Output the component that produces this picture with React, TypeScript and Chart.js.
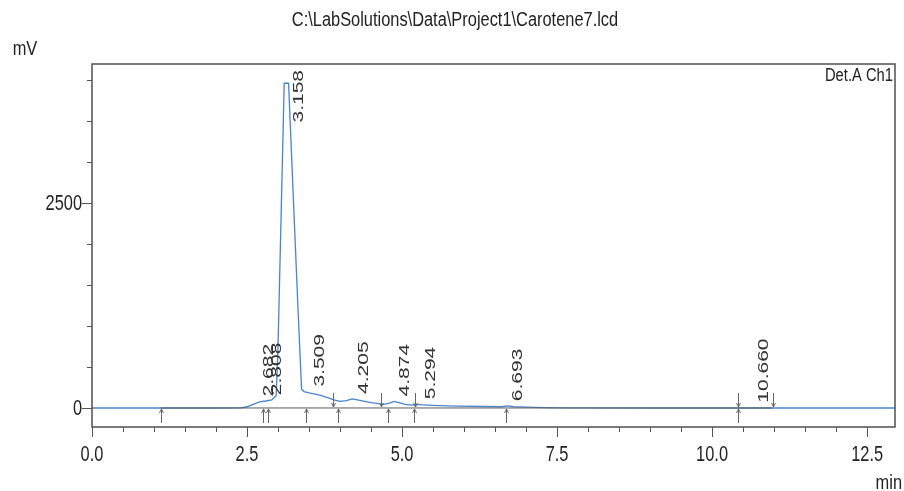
import React, { useEffect, useRef } from 'react';
import { Chart, registerables } from 'chart.js';

Chart.register(...registerables);

// ---- data ----
const titleText = 'C:\\LabSolutions\\Data\\Project1\\Carotene7.lcd';
const yUnit = 'mV';
const xUnit = 'min';
const channelText = 'Det.A Ch1';

const retentionTimes = [0, 1.0, 2.0, 2.4, 2.5, 2.6, 2.7, 2.8, 2.9, 2.97, 3.0, 3.05, 3.1, 3.17, 3.22, 3.27, 3.32, 3.38, 3.42, 3.5, 3.6, 3.7, 3.8, 3.9, 4.0, 4.1, 4.2, 4.3, 4.4, 4.5, 4.6, 4.7, 4.8, 4.87, 4.95, 5.05, 5.15, 5.25, 5.3, 5.4, 5.6, 5.9, 6.3, 6.6, 6.7, 6.8, 7.0, 7.3, 7.6, 9.0, 11.0, 12.95];
const signalMv = [0, 0, 0, 2, 15, 45, 75, 85, 100, 150, 750, 2350, 3960, 3960, 3050, 2150, 1250, 230, 200, 185, 170, 150, 125, 100, 80, 90, 110, 95, 80, 65, 55, 45, 60, 80, 65, 45, 35, 45, 40, 35, 28, 22, 18, 15, 25, 15, 10, 5, 2, 0, 0, 0];

const baselineTimes = [1.11, 10.98];
const baselineMv = [0, 0];

const peakTimes = [2.682, 2.808, 3.158, 3.509, 4.205, 4.874, 5.294, 6.693, 10.66];
const peakLabels = ['2.682', '2.808', '3.158', '3.509', '4.205', '4.874', '5.294', '6.693', '10.660'];
const peakHeights = [80, 95, 3960, 200, 110, 80, 45, 22, 3];

const startMarks = [1.11, 2.75, 2.84, 3.45, 3.97, 4.77, 5.19, 6.68, 10.42];
const endMarks = [3.89, 4.66, 5.21, 10.42, 10.98];

const xTicks = [0, 0.5, 1, 1.5, 2, 2.5, 3, 3.5, 4, 4.5, 5, 5.5, 6, 6.5, 7, 7.5, 8, 8.5, 9, 9.5, 10, 10.5, 11, 11.5, 12, 12.5];
const xLabelValues = [0, 2.5, 5, 7.5, 10, 12.5];
const xTickLabels = ['0.0', '2.5', '5.0', '7.5', '10.0', '12.5'];

const yTicks = [0, 500, 1000, 1500, 2000, 2500, 3000, 3500, 4000];
const yLabelValues = [0, 2500];
const yTickLabels = ['0', '2500'];

const FONT = "'Liberation Sans', Arial, sans-serif";
const CONDENSE = 0.82;
const STRETCH = 1.5;

function drawText(ctx: CanvasRenderingContext2D, text: string, x: number, y: number, align: CanvasTextAlign, size: number, sy = 1) {
  ctx.save();
  ctx.translate(x, y);
  ctx.scale(CONDENSE, sy);
  ctx.font = `${size}px ${FONT}`;
  ctx.textAlign = align;
  ctx.textBaseline = 'middle';
  ctx.fillText(text, 0, 0);
  ctx.restore();
}

const overlay = {
  id: 'overlay',
  afterDatasetsDraw(chart: any) {
    const { ctx, chartArea: a, scales } = chart;
    const x = scales.x;
    const y = scales.y;
    ctx.save();

    // frame
    ctx.strokeStyle = '#4f4f4f';
    ctx.lineWidth = 1.5;
    ctx.strokeRect(a.left, a.top, a.right - a.left, a.bottom - a.top);

    // tick marks
    ctx.lineWidth = 1;
    ctx.strokeStyle = '#555';
    ctx.beginPath();
    xTicks.forEach((v) => {
      const px = Math.round(x.getPixelForValue(v)) + 0.5;
      const len = xLabelValues.includes(v) ? 10 : 5;
      ctx.moveTo(px, a.bottom);
      ctx.lineTo(px, a.bottom + len);
    });
    yTicks.forEach((v) => {
      const py = Math.round(y.getPixelForValue(v)) + 0.5;
      const len = yLabelValues.includes(v) ? 10 : 5;
      ctx.moveTo(a.left, py);
      ctx.lineTo(a.left - len, py);
    });
    ctx.stroke();

    // tick labels
    ctx.fillStyle = '#222';
    xLabelValues.forEach((v, i) => {
      drawText(ctx, xTickLabels[i], x.getPixelForValue(v), a.bottom + 28, 'center', 20, 1.1);
    });
    yLabelValues.forEach((v, i) => {
      drawText(ctx, yTickLabels[i], a.left - 10, y.getPixelForValue(v) + 1, 'right', 20, 1.1);
    });

    // integration markers
    const y0 = y.getPixelForValue(0);
    ctx.strokeStyle = '#666';
    ctx.beginPath();
    startMarks.forEach((t) => {
      const px = Math.round(x.getPixelForValue(t)) + 0.5;
      ctx.moveTo(px, y0 + 1);
      ctx.lineTo(px, y0 + 15);
      ctx.moveTo(px - 2, y0 + 5);
      ctx.lineTo(px, y0 + 1);
      ctx.lineTo(px + 2, y0 + 5);
    });
    endMarks.forEach((t) => {
      const px = Math.round(x.getPixelForValue(t)) + 0.5;
      ctx.moveTo(px, y0 - 15);
      ctx.lineTo(px, y0 - 1);
      ctx.moveTo(px - 2, y0 - 5);
      ctx.lineTo(px, y0 - 1);
      ctx.lineTo(px + 2, y0 - 5);
    });
    ctx.stroke();

    // peak labels (rotated, stretched along the text)
    ctx.fillStyle = '#333';
    ctx.font = `14px ${FONT}`;
    ctx.textAlign = 'left';
    ctx.textBaseline = 'middle';
    peakTimes.forEach((t, i) => {
      const px = x.getPixelForValue(t);
      const py = y.getPixelForValue(peakHeights[i]);
      const len = ctx.measureText(peakLabels[i]).width * STRETCH;
      let yb = py - 5;
      if (yb - len < a.top + 6) yb = a.top + 6 + len;
      ctx.save();
      ctx.translate(px + 11, yb);
      ctx.scale(1, STRETCH);
      ctx.rotate(-Math.PI / 2);
      ctx.fillText(peakLabels[i], 0, 0);
      ctx.restore();
    });

    // texts
    ctx.fillStyle = '#222';
    drawText(ctx, titleText, 455, 20, 'center', 20);
    drawText(ctx, yUnit, 25, 49, 'center', 20);
    drawText(ctx, xUnit, 902, 483, 'right', 20);
    drawText(ctx, channelText, a.right - 2, a.top + 12, 'right', 18);

    ctx.restore();
  },
};

export default function App() {
  const ref = useRef<HTMLCanvasElement | null>(null);

  useEffect(() => {
    if (!ref.current) return;
    const chart = new Chart(ref.current, {
      type: 'line',
      data: {
        datasets: [
          {
            data: baselineTimes.map((t, i) => ({ x: t, y: baselineMv[i] })),
            borderColor: '#5a5a5a',
            borderWidth: 1,
            pointRadius: 0,
            tension: 0,
          },
          {
            data: retentionTimes.map((t, i) => ({ x: t, y: signalMv[i] })),
            borderColor: '#4a84cc',
            borderWidth: 1.3,
            pointRadius: 0,
            tension: 0,
          },
        ],
      },
      options: {
        responsive: false,
        animation: false,
        events: [],
        layout: { padding: { top: 64, right: 9, left: 0, bottom: 0 } },
        plugins: { legend: { display: false }, tooltip: { enabled: false }, title: { display: false } },
        scales: {
          x: {
            type: 'linear',
            min: 0,
            max: 12.95,
            grid: { display: false },
            border: { display: false },
            afterBuildTicks: (s: any) => {
              s.ticks = xTicks.map((v) => ({ value: v }));
            },
            afterFit: (s: any) => {
              s.height = 64;
            },
            ticks: { display: false },
          },
          y: {
            type: 'linear',
            min: -232,
            max: 4195,
            grid: { display: false },
            border: { display: false },
            afterBuildTicks: (s: any) => {
              s.ticks = yTicks.map((v) => ({ value: v }));
            },
            afterFit: (s: any) => {
              s.width = 92;
            },
            ticks: { display: false },
          },
        },
      },
      plugins: [overlay],
    } as any);
    return () => chart.destroy();
  }, []);

  return (
    <div style={{ position: 'absolute', left: 0, top: 0, width: 904, height: 491, background: '#fff' }}>
      <canvas ref={ref} width={904} height={491} style={{ display: 'block', width: 904, height: 491 }} />
    </div>
  );
}
